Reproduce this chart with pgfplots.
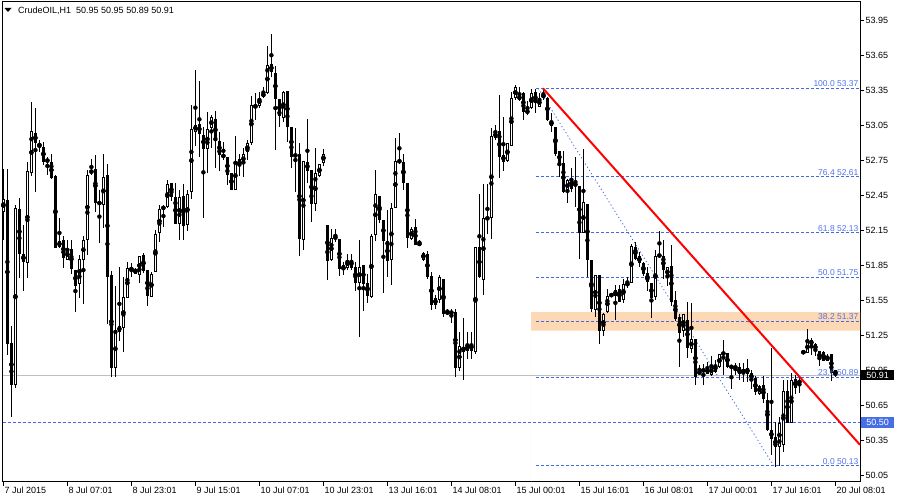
\documentclass[border=0pt]{standalone}
\usepackage{fontspec}
\setmainfont{Liberation Sans}
\usepackage{pgfplots}
\usepackage{pgfplotstable}
\pgfplotsset{compat=1.18}

\definecolor{fibblue}{RGB}{65,105,225}
\definecolor{fibtext}{RGB}{80,115,235}
\definecolor{peach}{RGB}{252,217,180}
\definecolor{lvlblue}{RGB}{70,110,230}
\tikzset{fiblab/.style={anchor=south east, inner sep=0pt, yshift=1.5pt, text=fibtext, font=\fontsize{8.5}{10}\selectfont}}

% hourly candles, bar index i
\pgfplotstableread{
i o h l c
0 52.31 52.68 52.07 52.42
1 52.41 52.68 51.08 51.18
2 51.18 51.33 50.55 50.82
3 50.82 52.37 50.80 52.34
4 52.33 52.43 51.74 51.95
5 51.95 52.20 51.63 51.88
6 51.87 52.74 51.74 52.66
7 52.64 53.25 52.62 53.00
8 52.99 53.20 52.48 52.90
9 52.88 52.93 52.82 52.89
10 52.87 52.91 52.71 52.74
11 52.76 52.78 52.63 52.74
12 52.74 52.81 52.59 52.60
13 52.62 52.63 52.00 52.00
14 52.01 52.26 52.00 52.06
15 52.07 52.10 51.83 51.91
16 51.90 52.07 51.90 51.99
17 51.99 52.07 51.78 51.82
18 51.81 51.81 51.45 51.67
19 51.69 51.94 51.57 51.91
20 51.90 52.10 51.52 52.07
21 52.07 52.67 51.94 52.63
22 52.64 52.76 52.63 52.67
23 52.68 52.80 52.31 52.39
24 52.39 52.50 52.04 52.38
25 52.37 52.81 52.17 52.61
26 52.63 52.72 51.35 51.75
27 51.77 51.80 50.89 50.97
28 50.97 51.67 50.89 51.30
29 51.28 51.84 51.20 51.33
30 51.31 51.75 51.11 51.58
31 51.57 51.88 51.57 51.83
32 51.81 51.87 51.75 51.83
33 51.82 51.83 51.78 51.78
34 51.77 51.93 51.70 51.93
35 51.94 51.96 51.79 51.80
36 51.81 51.81 51.50 51.59
37 51.58 51.79 51.58 51.78
38 51.79 52.15 51.79 52.12
39 52.13 52.37 52.05 52.33
40 52.34 52.37 52.18 52.35
41 52.35 52.58 52.34 52.55
42 52.56 52.56 52.40 52.44
43 52.44 52.56 52.21 52.21
44 52.21 52.50 52.07 52.44
45 52.45 52.55 52.07 52.19
46 52.20 52.50 52.15 52.46
47 52.48 53.23 52.42 53.02
48 53.00 53.53 52.88 53.06
49 53.06 53.43 52.78 52.98
50 52.97 53.04 52.26 52.85
51 52.85 53.17 52.64 53.02
52 53.03 53.14 52.86 53.12
53 53.11 53.18 52.69 52.92
54 52.92 53.00 52.66 52.80
55 52.80 52.91 52.76 52.78
56 52.78 52.78 52.54 52.63
57 52.64 52.64 52.50 52.50
58 52.50 52.96 52.50 52.74
59 52.76 52.81 52.62 52.70
60 52.72 52.86 52.61 52.81
61 52.82 52.93 52.76 52.90
62 52.90 53.30 52.88 53.23
63 53.21 53.33 53.10 53.22
64 53.22 53.34 53.20 53.29
65 53.30 53.38 53.29 53.33
66 53.33 53.73 53.32 53.57
67 53.58 53.84 53.47 53.51
68 53.50 53.56 52.84 53.28
69 53.28 53.28 53.04 53.13
70 53.12 53.35 53.08 53.34
71 53.35 53.35 52.91 53.04
72 53.04 53.04 52.69 52.78
73 52.78 53.03 52.48 52.81
74 52.81 52.90 51.93 52.08
75 52.07 52.75 51.98 52.75
76 52.74 53.11 52.56 52.66
77 52.67 52.67 52.22 52.38
78 52.38 52.86 52.32 52.64
79 52.62 52.72 52.61 52.72
80 52.73 52.85 52.70 52.81
81 52.20 52.20 51.73 51.89
82 51.90 52.16 51.89 52.09
83 52.10 52.16 52.05 52.08
84 52.08 52.08 51.76 51.82
85 51.81 51.88 51.77 51.85
86 51.83 51.95 51.81 51.90
87 51.90 51.95 51.81 51.83
88 51.84 51.88 51.63 51.70
89 51.70 52.07 51.24 51.84
90 51.85 51.85 51.46 51.69
91 51.70 51.78 51.53 51.59
92 51.58 52.12 51.57 52.10
93 52.11 52.67 52.06 52.46
94 52.45 52.45 52.21 52.24
95 52.24 52.24 51.61 52.06
96 52.06 52.33 51.75 51.89
97 51.90 52.39 51.68 52.34
98 52.34 52.94 52.34 52.75
99 52.73 52.99 52.72 52.76
100 52.74 52.81 52.50 52.56
101 52.56 52.56 52.00 52.09
102 52.08 52.18 52.07 52.16
103 52.18 52.25 52.03 52.03
104 52.04 52.07 52.02 52.03
105 51.90 51.97 51.89 51.96
106 51.95 51.97 51.73 51.75
107 51.76 51.79 51.47 51.51
108 51.51 51.60 51.48 51.57
109 51.55 51.77 51.53 51.75
110 51.73 51.73 51.41 51.43
111 51.45 51.48 51.43 51.44
112 51.43 51.48 51.36 51.46
113 51.45 51.48 50.89 50.97
114 50.97 51.28 50.94 51.16
115 51.15 51.40 50.87 51.11
116 51.12 51.28 51.05 51.17
117 51.18 51.28 51.05 51.12
118 51.11 52.01 51.09 52.01
119 52.01 52.46 51.74 51.75
120 51.73 52.55 51.60 52.26
121 52.26 52.55 52.12 52.25
122 52.26 53.03 52.08 52.96
123 52.94 53.06 52.93 53.00
124 53.00 53.31 52.60 52.78
125 52.80 53.12 52.66 52.74
126 52.75 52.90 52.74 52.90
127 52.88 53.34 52.88 53.29
128 53.29 53.40 53.27 53.38
129 53.27 53.38 53.26 53.31
130 53.33 53.34 53.10 53.17
131 53.16 53.26 53.14 53.18
132 53.20 53.36 53.19 53.33
133 53.34 53.36 53.16 53.24
134 53.21 53.33 53.21 53.29
135 53.30 53.37 53.27 53.31
136 53.29 53.30 53.09 53.10
137 53.09 53.16 53.00 53.05
138 53.04 53.04 52.79 52.81
139 52.83 52.83 52.61 52.73
140 52.73 52.83 52.47 52.48
141 52.49 52.59 52.39 52.58
142 52.60 52.69 52.48 52.51
143 52.53 52.78 52.35 52.56
144 52.53 52.53 51.91 52.13
145 52.13 52.85 52.13 52.39
146 52.38 52.38 51.75 51.90
147 51.90 51.90 51.45 51.48
148 51.47 51.77 51.41 51.77
149 51.77 51.77 51.18 51.29
150 51.29 51.44 51.24 51.43
151 51.45 51.65 51.44 51.59
152 51.59 51.61 51.58 51.60
153 51.59 51.68 51.38 51.64
154 51.65 51.68 51.54 51.54
155 51.55 51.73 51.53 51.69
156 51.67 51.75 51.66 51.71
157 51.70 52.03 51.70 52.02
158 52.01 52.05 51.90 51.91
159 51.93 51.97 51.84 51.87
160 51.87 51.88 51.76 51.78
161 51.79 51.84 51.63 51.71
162 51.70 51.70 51.40 51.57
163 51.58 51.98 51.55 51.93
164 51.93 52.15 51.93 51.94
165 51.93 52.07 51.73 51.81
166 51.75 51.84 51.67 51.84
167 51.85 52.03 51.50 51.54
168 51.55 51.63 51.37 51.39
169 51.41 51.43 50.98 51.27
170 51.29 51.43 51.24 51.43
171 51.38 51.54 51.06 51.14
172 51.13 51.53 51.10 51.22
173 51.22 51.22 50.82 50.89
174 50.92 51.00 50.91 50.94
175 50.95 51.00 50.82 50.95
176 50.97 51.02 50.92 50.92
177 50.91 51.07 50.90 50.98
178 51.00 51.04 50.93 50.94
179 50.98 51.09 50.97 51.09
180 51.09 51.21 50.91 51.10
181 51.10 51.10 50.97 50.98
182 50.99 50.99 50.79 50.97
183 50.97 51.01 50.91 50.98
184 50.98 51.01 50.87 50.92
185 50.92 51.01 50.85 50.96
186 50.97 51.05 50.85 50.92
187 50.93 50.95 50.79 50.87
188 50.88 50.90 50.74 50.76
189 50.75 50.82 50.74 50.82
190 50.82 50.90 50.67 50.70
191 50.70 50.76 50.43 50.44
192 50.44 51.14 50.22 50.36
193 50.38 50.51 50.12 50.29
194 50.29 50.55 50.13 50.50
195 50.31 50.87 50.25 50.77
196 50.77 50.87 50.50 50.50
197 50.50 50.93 50.50 50.87
198 50.88 50.91 50.75 50.80
199 50.87 50.90 50.76 50.83
200 51.10 51.11 51.10 51.11
201 51.10 51.30 51.10 51.20
202 51.21 51.23 51.08 51.17
203 51.18 51.18 51.07 51.12
204 51.12 51.12 50.99 51.04
205 51.11 51.12 51.03 51.03
206 51.03 51.09 51.03 51.07
207 51.09 51.09 50.86 50.93
208 50.95 50.95 50.89 50.91
}\candles

\begin{document}
\begin{tikzpicture}
\useasboundingbox (0,0) rectangle (900pt,500pt);
\begin{axis}[
  at={(2.5pt,18pt)}, anchor=south west,
  width=857.5pt, height=480pt, scale only axis,
  xmin=-0.225, xmax=214.15,
  ymin=49.991, ymax=54.111,
  clip=false,
  axis line style={black, line width=1pt},
  tick align=outside,
  major tick length=4pt,
  tick style={black, line width=0.8pt},
  xtick={0,16,...,208},
  xticklabels={7 Jul 2015, 8 Jul 07:01, 8 Jul 23:01, 9 Jul 15:01, 10 Jul 07:01, 10 Jul 23:01, 13 Jul 16:01, 14 Jul 08:01, 15 Jul 00:01, 15 Jul 16:01, 16 Jul 08:01, 17 Jul 00:01, 17 Jul 16:01, 20 Jul 08:01},
  xtick pos=bottom,
  ytick={50.05,50.35,50.65,50.95,51.25,51.55,51.85,52.15,52.45,52.75,53.05,53.35,53.65,53.95},
  ytick pos=right,
  yticklabel pos=right,
  ticklabel style={font=\fontsize{9}{10}\selectfont},
  xticklabel style={anchor=north west, inner sep=0pt, xshift=1pt, yshift=-1pt},
  yticklabel style={anchor=west, inner sep=0pt, xshift=1.5pt,
    /pgf/number format/.cd, fixed, fixed zerofill, precision=2, assume math mode=true},
]
% rectangle zone
\addplot[fill=peach, draw=none, forget plot] coordinates {(131.9,51.29) (214.15,51.29) (214.15,51.45) (131.9,51.45)} \closedcycle;
% current price and horizontal level
\addplot[color=black!25, line width=0.8pt, forget plot] coordinates {(-0.225,50.91) (214.15,50.91)};
\addplot[fibblue, line width=0.8pt, dash pattern=on 3pt off 2pt, forget plot] coordinates {(-0.225,50.50) (214.15,50.50)};
% fibonacci levels
\foreach \lv in {53.37,52.61,52.13,51.75,51.37,50.89,50.13} {
  \addplot[fibblue, line width=0.8pt, dash pattern=on 3pt off 2pt, forget plot] coordinates {(133.2,\lv) (214.15,\lv)};
}
\addplot[fibblue, line width=0.8pt, dash pattern=on 1.2pt off 2.5pt, forget plot] coordinates {(133.7,53.37) (192.6,50.13)};

% wicks
\addplot[only marks, mark=none, forget plot,
  error bars/.cd, y dir=both, y explicit, error mark=none,
  error bar style={draw=black, line width=1pt}]
  table[x=i, y expr={(\thisrow{h}+\thisrow{l})/2}, y error expr={(\thisrow{h}-\thisrow{l})/2}] {\candles};
% bodies
\addplot[only marks, mark=none, forget plot,
  error bars/.cd, y dir=both, y explicit, error mark=none,
  error bar style={draw=black, line width=3.2pt}]
  table[x=i, y expr={(\thisrow{o}+\thisrow{c})/2}, y error expr={max(abs(\thisrow{o}-\thisrow{c})/2,0.0043)}] {\candles};
% hollow inside of rising candles
\addplot[only marks, mark=none, forget plot,
  error bars/.cd, y dir=both, y explicit, error mark=none,
  error bar style={draw=white, line width=1.4pt}]
  table[x=i, y expr={(\thisrow{o}+\thisrow{c})/2}, y error expr={(\thisrow{c}>\thisrow{o})*max((\thisrow{c}-\thisrow{o})/2-0.0086,0)}] {\candles};

% trend line
\addplot[red, line width=2pt, forget plot] coordinates {(134.9,53.37) (214.15,50.31)};

% fibonacci labels
\node[fiblab] at (213.8,53.37) {100.0 53.37};
\node[fiblab] at (213.8,52.61) {76.4 52.61};
\node[fiblab] at (213.8,52.13) {61.8 52.13};
\node[fiblab] at (213.8,51.75) {50.0 51.75};
\node[fiblab] at (213.8,51.37) {38.2 51.37};
\node[fiblab] at (213.8,50.89) {23.6 50.89};
\node[fiblab] at (213.8,50.13) {0.0 50.13};

% price boxes on the scale
\node[fill=black, text=white, inner sep=0pt, minimum width=33pt, minimum height=10.5pt, anchor=west, xshift=1pt, font=\fontsize{9}{10}\selectfont] at (214.15,50.91) {50.91};
\node[fill=lvlblue, text=white, inner sep=0pt, minimum width=33pt, minimum height=10.5pt, anchor=west, xshift=1pt, font=\fontsize{9}{10}\selectfont] at (214.15,50.50) {50.50};
\end{axis}
\fill (4.5pt,492pt) -- (11.5pt,492pt) -- (8pt,488pt) -- cycle;
\node[anchor=base west, inner sep=0pt, font=\fontsize{9}{10}\selectfont] at (18pt,486pt) {CrudeOIL,H1\hspace{5pt}50.95 50.95 50.89 50.91};
\end{tikzpicture}
\end{document}
